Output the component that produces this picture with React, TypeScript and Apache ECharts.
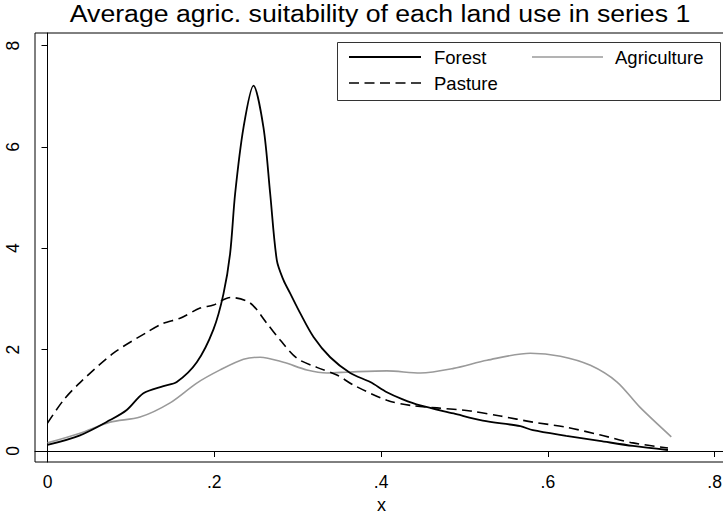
import React, { useEffect, useRef } from "react";
import * as echarts from "echarts";

// Kernel-density style curves of agricultural suitability, one per land use
const forestX = [0, 0.039, 0.075, 0.095, 0.115, 0.139, 0.155, 0.179, 0.199, 0.211, 0.219, 0.225, 0.235, 0.247, 0.259, 0.267, 0.275, 0.283, 0.291, 0.303, 0.319, 0.339, 0.363, 0.387, 0.407, 0.426, 0.447, 0.487, 0.522, 0.567, 0.582, 0.622, 0.662, 0.702, 0.744];
const forestY = [0.12, 0.31, 0.61, 0.81, 1.14, 1.28, 1.36, 1.75, 2.4, 3.1, 3.9, 5.08, 6.38, 7.21, 6.38, 5.08, 3.76, 3.37, 3.11, 2.72, 2.25, 1.85, 1.54, 1.36, 1.16, 1.02, 0.9, 0.74, 0.6, 0.49, 0.41, 0.3, 0.2, 0.1, 0.02];

const agricultureX = [0, 0.039, 0.075, 0.111, 0.147, 0.179, 0.207, 0.235, 0.255, 0.283, 0.311, 0.335, 0.363, 0.407, 0.447, 0.487, 0.527, 0.579, 0.615, 0.651, 0.683, 0.71, 0.748];
const agricultureY = [0.16, 0.35, 0.57, 0.67, 0.95, 1.34, 1.6, 1.81, 1.85, 1.75, 1.6, 1.54, 1.56, 1.58, 1.54, 1.63, 1.79, 1.93, 1.87, 1.69, 1.36, 0.87, 0.28];

const pastureX = [0, 0.019, 0.039, 0.079, 0.119, 0.139, 0.159, 0.183, 0.199, 0.219, 0.243, 0.263, 0.279, 0.299, 0.323, 0.347, 0.367, 0.407, 0.435, 0.467, 0.507, 0.543, 0.582, 0.622, 0.662, 0.702, 0.744];
const pastureY = [0.55, 1.0, 1.35, 1.93, 2.34, 2.52, 2.62, 2.82, 2.88, 3.03, 2.92, 2.52, 2.19, 1.83, 1.65, 1.5, 1.3, 1.0, 0.9, 0.85, 0.79, 0.69, 0.57, 0.47, 0.32, 0.16, 0.06];

const xTicks = [0, 0.2, 0.4, 0.6, 0.8];
const yTicks = [0, 2, 4, 6, 8];

const FONT = "Liberation Sans, Arial, Helvetica, sans-serif";
const DASH = [10, 5.5];

const pairs = (xs: number[], ys: number[]) => xs.map((x, i) => [x, ys[i]]);
const fmtX = (v: number) => (v === 0 ? "0" : String(v).replace(/^0/, ""));

export default function App() {
  const ref = useRef<HTMLDivElement>(null);

  useEffect(() => {
    if (!ref.current) return;
    const chart = echarts.init(ref.current, undefined, { renderer: "svg" });
    chart.setOption({
      animation: false,
      backgroundColor: "#fff",
      grid: {
        left: 35,
        top: 33,
        width: 693,
        height: 429,
        show: true,
        borderColor: "#000",
        borderWidth: 1,
        containLabel: false,
        outerBoundsMode: "none",
      },
      xAxis: {
        type: "value",
        min: -0.015,
        max: 0.816,
        name: "x",
        nameLocation: "middle",
        nameGap: 30,
        nameTextStyle: { fontFamily: FONT, fontSize: 18, color: "#000", lineHeight: 18 },
        axisLine: { show: true, lineStyle: { color: "#000", width: 1 } },
        axisTick: { show: true, length: 6, customValues: xTicks, lineStyle: { color: "#000" } },
        axisLabel: {
          customValues: xTicks,
          formatter: fmtX,
          fontFamily: FONT,
          fontSize: 17.5,
          color: "#000",
          margin: 11,
        },
        splitLine: { show: false },
      },
      yAxis: {
        type: "value",
        min: -0.217,
        max: 8.247,
        axisLine: { show: true, lineStyle: { color: "#000", width: 1 } },
        axisTick: { show: true, length: 6, customValues: yTicks, lineStyle: { color: "#000" } },
        axisLabel: {
          customValues: yTicks,
          rotate: 90,
          fontFamily: FONT,
          fontSize: 17.5,
          color: "#000",
          margin: 13,
        },
        splitLine: { show: false },
      },
      series: [
        {
          name: "Forest",
          type: "line",
          data: pairs(forestX, forestY),
          smooth: 0.3,
          showSymbol: false,
          lineStyle: { color: "#000", width: 1.8 },
          z: 3,
        },
        {
          name: "Agriculture",
          type: "line",
          data: pairs(agricultureX, agricultureY),
          smooth: 0.3,
          showSymbol: false,
          lineStyle: { color: "#9a9a9a", width: 1.6 },
          z: 2,
        },
        {
          name: "Pasture",
          type: "line",
          data: pairs(pastureX, pastureY),
          smooth: 0.3,
          showSymbol: false,
          lineStyle: { color: "#000", width: 1.6, type: DASH },
          z: 2,
        },
      ],
      graphic: [
        {
          type: "text",
          x: 380,
          y: 2,
          scaleX: 1.16,
          style: {
            text: "Average agric. suitability of each land use in series 1",
            fontFamily: FONT,
            fontSize: 23,
            fill: "#000",
            textAlign: "center",
            textVerticalAlign: "top",
          },
        },
        {
          type: "group",
          children: [
            {
              type: "rect",
              shape: { x: 337.5, y: 42.5, width: 383, height: 58 },
              style: { fill: "#fff", stroke: "#333", lineWidth: 1 },
              z: 10,
            },
            {
              type: "line",
              shape: { x1: 349, y1: 57, x2: 421, y2: 57 },
              style: { stroke: "#000", lineWidth: 1.8 },
              z: 11,
            },
            {
              type: "text",
              x: 434,
              y: 57,
              style: { text: "Forest", fontFamily: FONT, fontSize: 18.5, fill: "#000", textVerticalAlign: "middle" },
              z: 11,
            },
            {
              type: "line",
              shape: { x1: 532, y1: 57, x2: 603, y2: 57 },
              style: { stroke: "#9a9a9a", lineWidth: 1.6 },
              z: 11,
            },
            {
              type: "text",
              x: 615,
              y: 57,
              style: { text: "Agriculture", fontFamily: FONT, fontSize: 18.5, fill: "#000", textVerticalAlign: "middle" },
              z: 11,
            },
            {
              type: "line",
              shape: { x1: 349, y1: 83, x2: 421, y2: 83 },
              style: { stroke: "#000", lineWidth: 1.6, lineDash: DASH },
              z: 11,
            },
            {
              type: "text",
              x: 434,
              y: 83,
              style: { text: "Pasture", fontFamily: FONT, fontSize: 18.5, fill: "#000", textVerticalAlign: "middle" },
              z: 11,
            },
          ],
        },
      ],
    });
    return () => chart.dispose();
  }, []);

  return (
    <div
      ref={ref}
      style={{ position: "fixed", left: 0, top: 0, width: 723, height: 514, background: "#fff" }}
    />
  );
}
